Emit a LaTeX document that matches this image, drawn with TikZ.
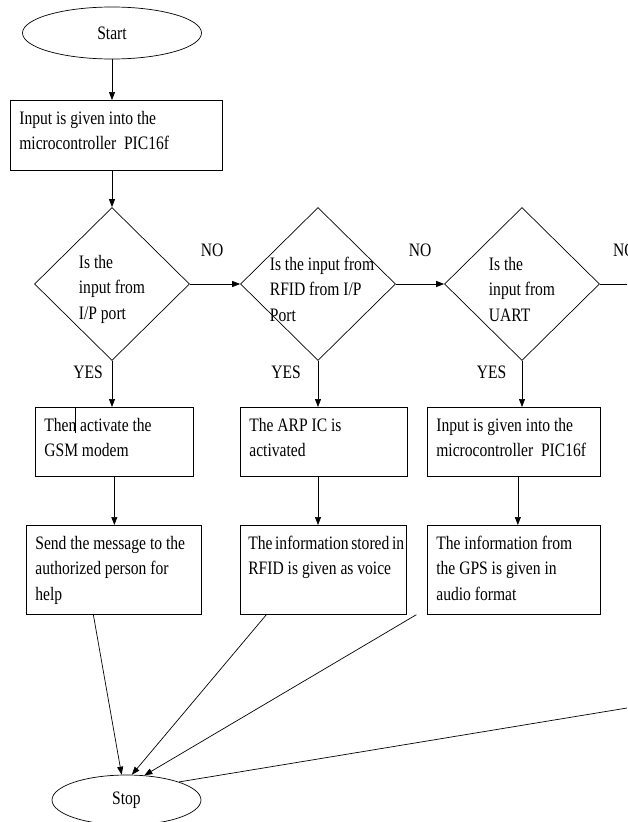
\documentclass[tikz,border=0pt]{standalone}
\usepackage{fontspec}
\setmainfont{Liberation Serif}[FakeStretch=0.82]
\usetikzlibrary{arrows.meta}
\usetikzlibrary{shapes.geometric}

\begin{document}
\begin{tikzpicture}[
	x=1pt, y=-1pt,
	font=\fontsize{19pt}{25.5pt}\selectfont,
	line width=0.7pt,
	terminal/.style={
		draw, ellipse,
		inner sep=0pt,
	},
	box/.style={
		draw, anchor=north west,
		align=flush left,
		inner xsep=9pt, inner ysep=0pt,
		text height=24pt,
	},
	decision/.style={
		draw, diamond,
		minimum width=155pt, minimum height=153pt,
		inner sep=0pt,
	},
	dtext/.style={align=flush left, inner sep=0pt, yshift=-5pt},
	flow/.style={-{Triangle[length=8pt,width=6pt]}},
]
\useasboundingbox (0,0) rectangle (627,822);

\node [terminal,minimum width=179pt,minimum height=52pt] (start) at (112,33) {Start};
\node [box,text width=194pt,text depth=46pt] (input) at (10,100) {Input is given into the\\microcontroller\ \ PIC16f};

\node [decision,label={[dtext]center:Is the\\input from\\I/P port}] (d1) at (112,284) {};
\node [decision,label={[dtext,xshift=4pt]center:Is the input from\\RFID from I/P\\Port}] (d2) at (318,284) {};
\node [decision,label={[dtext]center:Is the\\input from\\UART}] (d3) at (522,284) {};

\node [box,text width=140pt,text depth=45pt] (gsm) at (35,407) {Then activate the\\GSM modem};
\node [box,text width=149pt,text depth=45pt] (arp) at (240,407) {The ARP IC is\\activated};
\node [box,text width=155pt,text depth=45pt] (micro) at (427,407) {Input is given into the\\microcontroller\ \ PIC16f};

\node [box,text width=157pt,text depth=65pt] (sendmsg) at (26,525) {Send the message to the\\authorized person for\\help};
\node [box,text width=150pt,text depth=65pt,inner xsep=8pt] (voice) at (240,525) {\mbox{\spaceskip=2.6pt\relax The information stored in}\\RFID is given as voice};
\node [box,text width=155pt,text depth=65pt] (audio) at (427,525) {The information from\\the GPS is given in\\audio format};

\node [terminal,minimum width=149pt,minimum height=50pt] (stop) at (126.5,800) {Stop};

\coordinate (offright) at (627,284);
\coordinate (offbottom) at (627,708);

% main column
\draw [flow] (start) -- (start |- input.north);
\draw [flow] (d1.north |- input.south) -- (d1);

% NO branches
\draw [flow] (d1) -- (d2) node [midway,xshift=-3pt,yshift=34pt] {NO};
\draw [flow] (d2) -- (d3) node [midway,yshift=34pt] {NO};
\draw (d3) -- (offright) node [pos=0.9,yshift=34pt] {NO};

% YES branches
\draw [flow] (d1.south) -- (d1.south |- gsm.north) node [pos=0.24,xshift=-24pt] {YES};
\draw [flow] (d2.south) -- (d2.south |- arp.north) node [pos=0.24,xshift=-32pt] {YES};
\draw [flow] (d3.south) -- (d3.south |- micro.north) node [pos=0.24,xshift=-30.5pt] {YES};

\draw [flow] (gsm.south) -- (gsm.south |- sendmsg.north);
\draw [flow] (d2.south |- arp.south) -- (d2.south |- voice.north);
\draw [flow] ([xshift=4pt]micro.south) -- ([xshift=4pt]micro.south |- audio.north);
\draw ([xshift=-39pt]gsm.north) -- ++(0,26);

% to stop
\draw [flow] ([xshift=-20.5pt]sendmsg.south) -- (stop.101);
\draw [flow] ([xshift=-57pt]voice.south) -- (stop.78);
\draw [flow] ([xshift=-97.5pt]audio.south) -- (stop.54);
\draw (offbottom) -- (stop.19);
\end{tikzpicture}
\end{document}
